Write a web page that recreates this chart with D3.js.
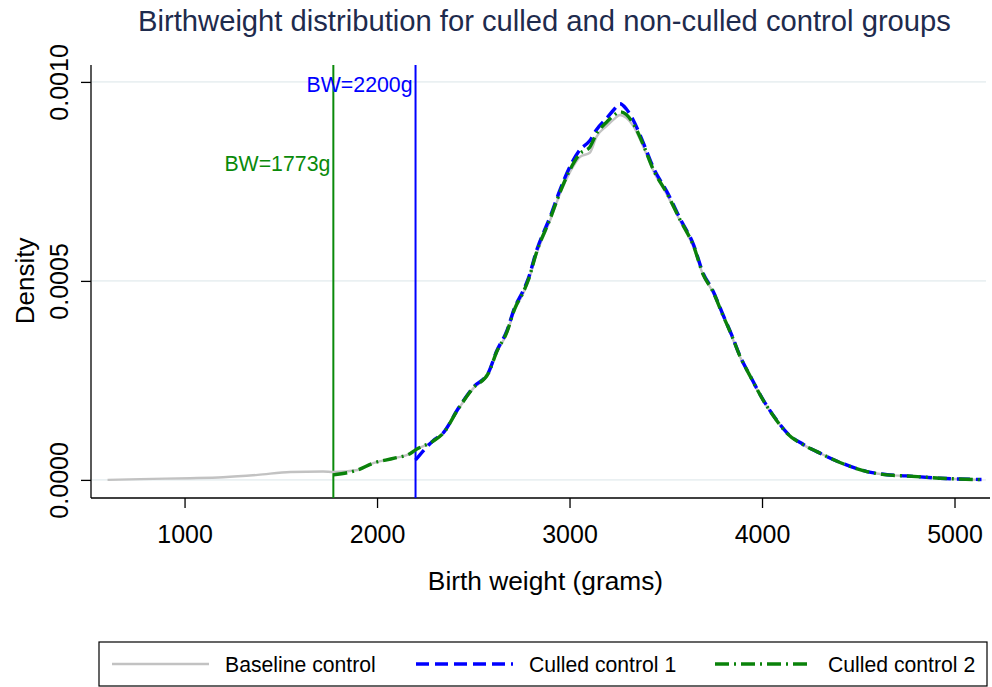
<!DOCTYPE html>
<html>
<head>
<meta charset="utf-8">
<script src="https://cdn.jsdelivr.net/npm/d3@7"></script>
<style>
  html, body { margin: 0; padding: 0; background: #ffffff; }
  svg { display: block; font-family: "Liberation Sans", Arial, Helvetica, sans-serif; }
</style>
</head>
<body>
<svg id="chart" width="992" height="687"></svg>
<script>
// Kernel density estimates of birth weight, evaluated on a shared grid (grams)
const grams = [600, 770, 1030, 1200, 1380, 1550, 1720, 1773, 1900, 1980, 2090, 2175, 2200,
  2290, 2345, 2420, 2500, 2580, 2620, 2675, 2715, 2760, 2785, 2830, 2900, 2950, 3005, 3055,
  3105, 3140, 3195, 3230, 3262, 3295, 3330, 3385, 3435, 3505, 3575, 3645, 3695, 3740, 3800,
  3845, 3885, 3940, 4005, 4075, 4130, 4215, 4285, 4405, 4545, 4650, 4750, 4925, 5140];

const baselineControl = [0.0000000, 0.0000020, 0.0000043, 0.0000068, 0.0000126, 0.0000200,
  0.0000209, 0.0000200, 0.0000250, 0.0000420, 0.0000545, 0.0000670, 0.0000754,
  0.0000960, 0.000117, 0.000176, 0.000230, 0.000268, 0.000318, 0.000369, 0.000427, 0.000469,
  0.000498, 0.000570, 0.000653, 0.000718, 0.000776, 0.000812, 0.000822, 0.000862, 0.000890,
  0.000906, 0.000917, 0.000910, 0.000890, 0.000835, 0.000777, 0.000718, 0.000650, 0.000584,
  0.000513, 0.000476, 0.000408, 0.000358, 0.000310, 0.000258, 0.000200, 0.000150, 0.000117,
  0.000088, 0.000071, 0.0000435, 0.0000209, 0.0000126, 0.0000100, 0.0000043, 0.0000000];

const culledControl1 = [null, null, null, null, null, null, null, null, null, null, null, null,
  0.0000500, 0.0000980, 0.000119, 0.000178, 0.000233, 0.000271, 0.000322, 0.000375, 0.000433,
  0.000476, 0.000505, 0.000578, 0.000662, 0.000728, 0.000790, 0.000830, 0.000852, 0.000880,
  0.000910, 0.000930, 0.000945, 0.000932, 0.000905, 0.000845, 0.000785, 0.000725, 0.000656,
  0.000590, 0.000518, 0.000480, 0.000412, 0.000361, 0.000312, 0.000260, 0.000202, 0.000151,
  0.000118, 0.000089, 0.000071, 0.0000440, 0.0000210, 0.0000130, 0.0000100, 0.0000040, 0.0000010];

const culledControl2 = [null, null, null, null, null, null, null,
  0.0000126, 0.0000250, 0.0000420, 0.0000545, 0.0000670, 0.0000754,
  0.0000970, 0.000118, 0.000177, 0.000231, 0.000269, 0.000320, 0.000372, 0.000430, 0.000472,
  0.000501, 0.000574, 0.000657, 0.000722, 0.000782, 0.000820, 0.000836, 0.000870, 0.000900,
  0.000916, 0.000925, 0.000918, 0.000896, 0.000840, 0.000780, 0.000721, 0.000653, 0.000587,
  0.000515, 0.000478, 0.000410, 0.000360, 0.000311, 0.000259, 0.000201, 0.000150, 0.000117,
  0.000088, 0.000071, 0.0000437, 0.0000209, 0.0000126, 0.0000100, 0.0000043, 0.0000005];

// Axis ticks
const xTicks = [1000, 2000, 3000, 4000, 5000];
const yTicks = [0, 0.0005, 0.001];

// Birth-weight cut-offs marked with reference lines
const cutoffs = [
  { grams: 1773, label: "BW=1773g", color: "#0a8a0a", labelY: 171 },
  { grams: 2200, label: "BW=2200g", color: "#0000ff", labelY: 92 }
];

const series = [
  { name: "Baseline control", values: baselineControl, color: "#c2c2c2", width: 2.4, dash: null },
  { name: "Culled control 1", values: culledControl1, color: "#0000ff", width: 3.4, dash: "13,6" },
  { name: "Culled control 2", values: culledControl2, color: "#0a820a", width: 3.4, dash: "14,5,2,5" }
];

const plot = { left: 91, right: 988, top: 65, bottom: 498 };

const svg = d3.select("#chart");

const x = d3.scaleLinear().domain([514, 5174]).range([plot.left, plot.right]);
const y = d3.scaleLinear().domain([-0.0000455, 0.0010425]).range([plot.bottom, plot.top]);

// Title
svg.append("text")
  .attr("x", (plot.left + plot.right) / 2 + 5)
  .attr("y", 31)
  .attr("text-anchor", "middle")
  .attr("fill", "#1e2b4d")
  .attr("font-size", 29.2)
  .text("Birthweight distribution for culled and non-culled control groups");

// Horizontal grid lines
svg.append("g")
  .selectAll("line")
  .data(yTicks)
  .join("line")
  .attr("x1", plot.left + 1)
  .attr("x2", plot.right - 2)
  .attr("y1", d => y(d))
  .attr("y2", d => y(d))
  .attr("stroke", "#eaf0f2")
  .attr("stroke-width", 1.6);

// Y axis
const yAxis = svg.append("g")
  .attr("transform", `translate(${plot.left},0)`)
  .call(d3.axisLeft(y).tickValues(yTicks).tickSize(10).tickFormat(d3.format(".4f")).tickSizeOuter(0));
yAxis.select(".domain").attr("d", `M0,${plot.top}V${plot.bottom}`).attr("stroke", "#000").attr("stroke-width", 1.3);
yAxis.selectAll(".tick line").attr("stroke", "#000").attr("stroke-width", 1.3);
yAxis.selectAll(".tick text")
  .attr("font-size", 25)
  .attr("font-family", "'Liberation Sans', Arial, sans-serif")
  .attr("fill", "#000")
  .attr("text-anchor", "middle")
  .attr("transform", "rotate(-90)")
  .attr("x", 0)
  .attr("y", -23)
  .attr("dy", 0);

// X axis
const xAxis = svg.append("g")
  .attr("transform", `translate(0,${plot.bottom})`)
  .call(d3.axisBottom(x).tickValues(xTicks).tickSize(10).tickFormat(d3.format("d")).tickSizeOuter(0));
xAxis.select(".domain").attr("d", `M${plot.left},0H${plot.right + 2}`).attr("stroke", "#000").attr("stroke-width", 1.3);
xAxis.selectAll(".tick line").attr("stroke", "#000").attr("stroke-width", 1.3);
xAxis.selectAll(".tick text")
  .attr("font-size", 25)
  .attr("font-family", "'Liberation Sans', Arial, sans-serif")
  .attr("fill", "#000")
  .attr("y", 45)
  .attr("dy", 0);

// Axis titles
svg.append("text")
  .attr("transform", `translate(34,${(y(0) + y(0.001)) / 2}) rotate(-90)`)
  .attr("text-anchor", "middle")
  .attr("font-size", 26)
  .attr("fill", "#000")
  .text("Density");

svg.append("text")
  .attr("x", (plot.left + plot.right) / 2 + 6)
  .attr("y", 590)
  .attr("text-anchor", "middle")
  .attr("font-size", 26.3)
  .attr("fill", "#000")
  .text("Birth weight (grams)");

// Cut-off reference lines and their labels
const cut = svg.append("g");
cut.selectAll("line")
  .data(cutoffs)
  .join("line")
  .attr("x1", d => x(d.grams))
  .attr("x2", d => x(d.grams))
  .attr("y1", plot.top)
  .attr("y2", plot.bottom)
  .attr("stroke", d => d.color)
  .attr("stroke-width", 2);
cut.selectAll("text")
  .data(cutoffs)
  .join("text")
  .attr("x", d => x(d.grams) - 3)
  .attr("y", d => d.labelY)
  .attr("text-anchor", "end")
  .attr("font-size", 21.3)
  .attr("fill", d => d.color)
  .text(d => d.label);

// Density curves
const line = d3.line()
  .defined(d => d[1] !== null)
  .x(d => x(d[0]))
  .y(d => y(d[1]))
  .curve(d3.curveMonotoneX);

svg.append("g")
  .selectAll("path")
  .data(series)
  .join("path")
  .attr("d", s => line(grams.map((g, i) => [g, s.values[i]])))
  .attr("fill", "none")
  .attr("stroke", s => s.color)
  .attr("stroke-width", s => s.width)
  .attr("stroke-dasharray", s => s.dash)
  .attr("stroke-linejoin", "round");

// Legend
const legend = { left: 99, top: 642, right: 987, bottom: 686 };
svg.append("rect")
  .attr("x", legend.left)
  .attr("y", legend.top)
  .attr("width", legend.right - legend.left)
  .attr("height", legend.bottom - legend.top)
  .attr("fill", "#fff")
  .attr("stroke", "#000")
  .attr("stroke-width", 1.2);

const legendKeyX = [112, 416, 715];
const legendMidY = (legend.top + legend.bottom) / 2;
const items = svg.append("g")
  .selectAll("g")
  .data(series)
  .join("g")
  .attr("transform", (d, i) => `translate(${legendKeyX[i]},${legendMidY})`);
items.append("line")
  .attr("x1", 0).attr("x2", 97)
  .attr("y1", 0).attr("y2", 0)
  .attr("stroke", d => d.color)
  .attr("stroke-width", d => d.width)
  .attr("stroke-dasharray", d => d.dash);
items.append("text")
  .attr("x", 113)
  .attr("y", 7.5)
  .attr("font-size", 21.2)
  .attr("fill", "#000")
  .text(d => d.name);
</script>
</body>
</html>
